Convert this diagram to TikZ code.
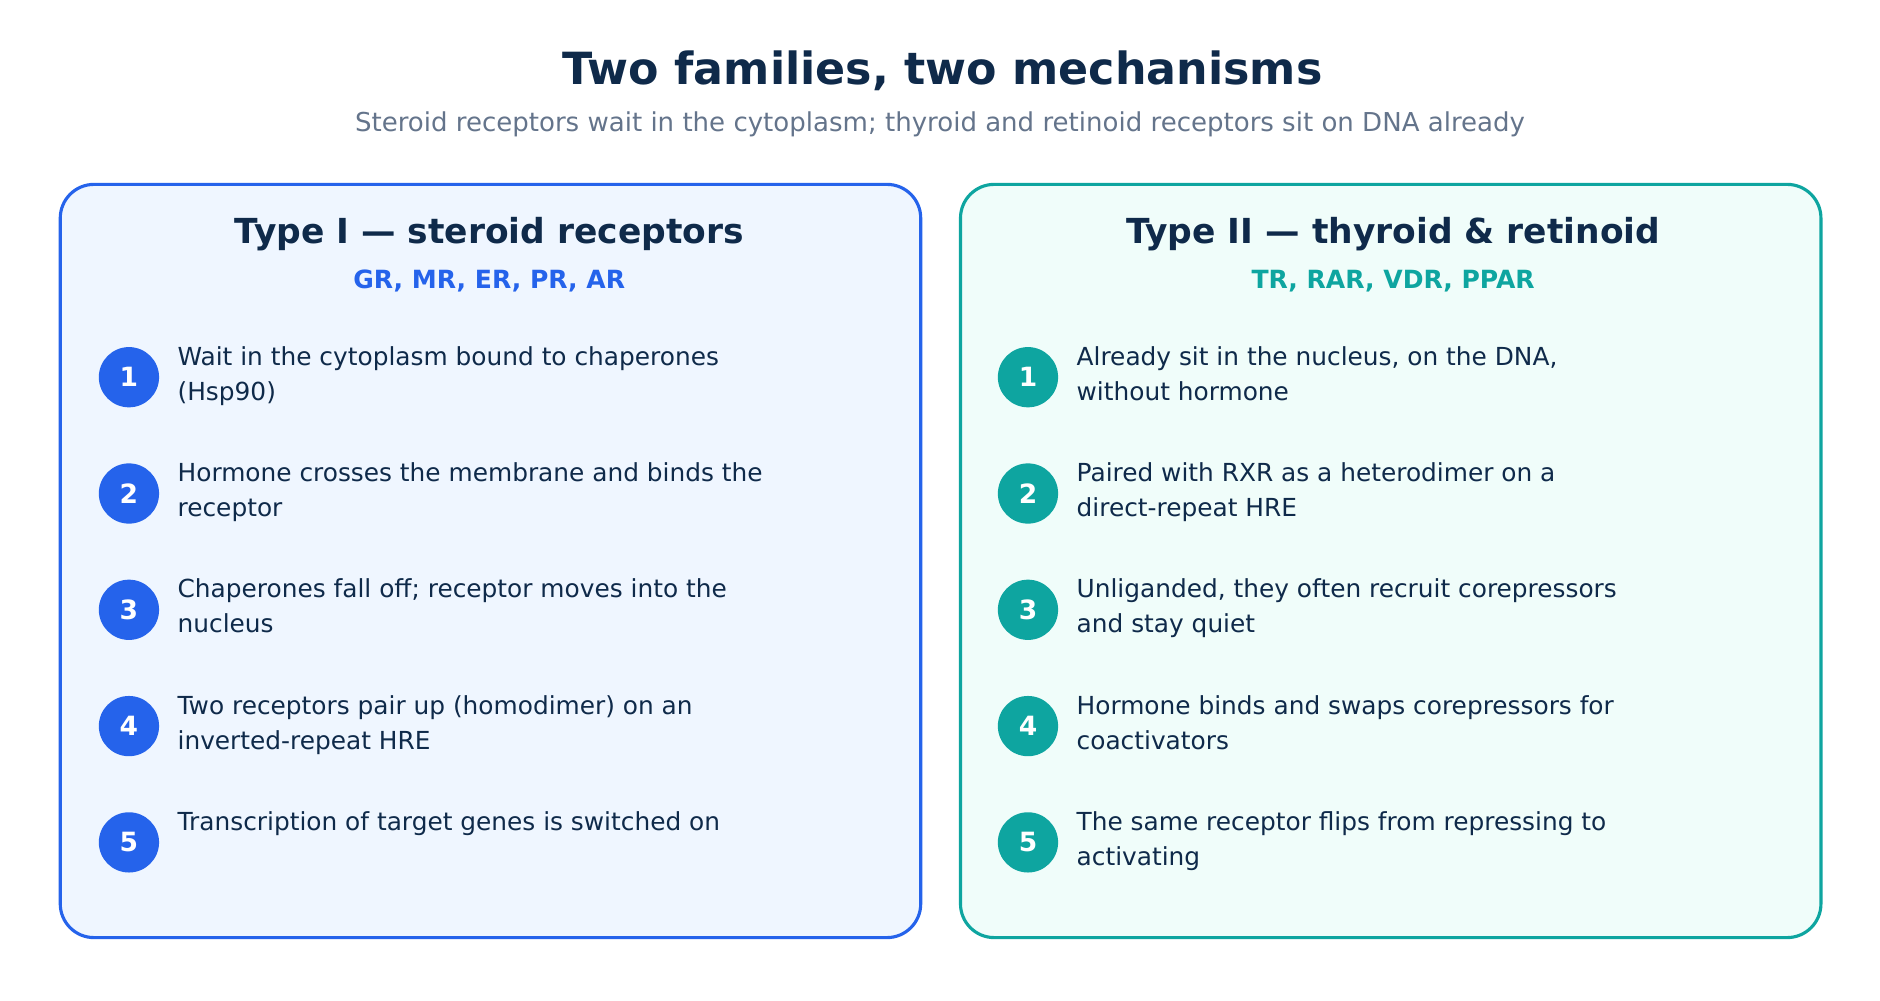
\documentclass[tikz,border=0pt]{standalone}
\usepackage{fontspec}
\setmainfont{DejaVu Sans}
\usetikzlibrary{positioning}
\definecolor{ink}{HTML}{0F2A4A}
\definecolor{mute}{HTML}{64748B}
\definecolor{typeA}{HTML}{2563EB}
\definecolor{typeB}{HTML}{0EA5A0}
\definecolor{fillA}{HTML}{EFF6FF}
\definecolor{fillB}{HTML}{F0FDFA}
\tikzset{
  panel/.style={draw=#1, line width=1.3pt, rounded corners=14pt},
  head/.style={font=\bfseries\fontsize{14.3}{16}\selectfont, text=ink},
  tag/.style={font=\bfseries\fontsize{10.4}{12}\selectfont, text=#1},
  step/.style={circle, fill=#1, minimum size=25pt, inner sep=0pt, text=white, font=\bfseries\fontsize{11}{12}\selectfont},
  item/.style={anchor=north west, align=left, inner sep=0pt, text=ink, font=\fontsize{10.3}{14.5}\selectfont},
}
\begin{document}
\begin{tikzpicture}[x=0.5pt,y=-0.5pt]
\useasboundingbox (0,0) rectangle (1560,830);

\node[font=\bfseries\fontsize{18.4}{20}\selectfont, text=ink] (title) at (782,59) {Two families, two mechanisms};
\node[font=\fontsize{10.8}{12}\selectfont, text=mute] (sub) at (780,103) {Steroid receptors wait in the cytoplasm; thyroid and retinoid receptors sit on DNA already};

% left panel
\draw[panel=typeA, fill=fillA] (50,153) rectangle (764,778);
\node[head] (headA) at (406,194) {Type I — steroid receptors};
\node[tag=typeA] (tagA) at (406,233) {GR, MR, ER, PR, AR};

% right panel
\draw[panel=typeB, fill=fillB] (797,153) rectangle (1511,778);
\node[head] (headB) at (1156,194) {Type II — thyroid \& retinoid};
\node[tag=typeB] (tagB) at (1156,233) {TR, RAR, VDR, PPAR};

\foreach \n/\txt [count=\i] in {
  1/{Wait in the cytoplasm bound to chaperones\\(Hsp90)},
  2/{Hormone crosses the membrane and binds the\\receptor},
  3/{Chaperones fall off; receptor moves into the\\nucleus},
  4/{Two receptors pair up (homodimer) on an\\inverted-repeat HRE},
  5/{Transcription of target genes is switched on}}
{
  \node[step=typeA] (a\i) at (107,{313+96.5*(\i-1)}) {\n};
  \node[item] (ta\i) at (147,{287+96.5*(\i-1)}) {\txt};
}

\foreach \n/\txt [count=\i] in {
  1/{Already sit in the nucleus, on the DNA,\\without hormone},
  2/{Paired with RXR as a heterodimer on a\\direct-repeat HRE},
  3/{Unliganded, they often recruit corepressors\\and stay quiet},
  4/{Hormone binds and swaps corepressors for\\coactivators},
  5/{The same receptor flips from repressing to\\activating}}
{
  \node[step=typeB] (b\i) at (853,{313+96.5*(\i-1)}) {\n};
  \node[item] (tb\i) at (893,{287+96.5*(\i-1)}) {\txt};
}
\end{tikzpicture}
\end{document}
